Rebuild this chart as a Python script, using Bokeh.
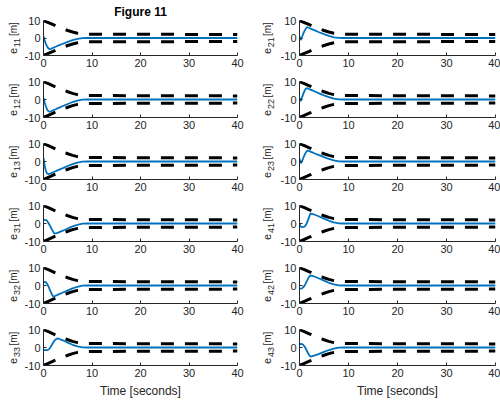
import math

from bokeh.core.properties import value
from bokeh.embed import file_html
from bokeh.layouts import column, row
from bokeh.models import FixedTicker, Range1d
from bokeh.plotting import figure
from bokeh.resources import INLINE

# Time samples (seconds) for the tracking errors
t = [0, 0.25, 0.5, 0.75, 1.0, 1.25, 1.5, 1.75, 2.0, 2.25, 2.5, 2.75, 3.0,
     4.0, 5.0, 6.0, 7.0, 8.0, 9.0, 40.0]

# Tracking errors [m]
e11 = [1.0, -1.5, -3.4, -4.9, -5.9, -6.4, -6.2, -5.9, -5.6, -5.3, -5.0, -4.7, -4.4,
       -3.3, -2.2, -1.2, -0.5, -0.1, 0.0, 0.0]
e12 = [1.0, -1.8, -3.9, -5.5, -6.5, -6.8, -6.6, -6.3, -6.0, -5.7, -5.4, -5.1, -4.8,
       -3.6, -2.5, -1.4, -0.6, -0.1, 0.0, 0.0]
e13 = [2.0, -2.5, -5.3, -6.6, -7.0, -6.8, -6.6, -6.3, -6.0, -5.7, -5.4, -5.1, -4.8,
       -3.7, -2.5, -1.5, -0.6, -0.1, 0.0, 0.0]
e31 = [2.0, 2.0, 1.9, 1.4, 0.4, -0.8, -2.1, -3.4, -4.6, -5.6, -5.5, -5.3, -5.1,
       -4.0, -2.8, -1.6, -0.7, -0.1, 0.0, 0.0]
e32 = [1.8, 2.0, 1.7, 0.9, -0.4, -2.0, -3.6, -5.0, -6.1, -6.0, -5.7, -5.4, -5.1,
       -3.9, -2.7, -1.6, -0.7, -0.1, 0.0, 0.0]
e33 = [-1.3, -1.5, -1.5, -1.4, -1.2, -0.6, 0.4, 1.6, 2.8, 3.8, 4.5, 4.9, 5.0,
       4.0, 2.7, 1.5, 0.6, 0.1, 0.0, 0.0]
e21 = [1.0, -1.2, 0.4, 2.3, 3.9, 5.2, 6.2, 6.0, 5.7, 5.4, 5.1, 4.8, 4.5,
       3.3, 2.2, 1.2, 0.4, 0.05, 0.0, 0.0]
e22 = [1.0, -1.0, 1.0, 3.0, 4.6, 5.9, 6.3, 6.1, 5.8, 5.5, 5.2, 4.9, 4.6,
       3.4, 2.3, 1.3, 0.5, 0.1, 0.0, 0.0]
e23 = [1.5, -1.0, 0.0, 1.8, 3.4, 4.8, 5.9, 6.1, 5.8, 5.5, 5.2, 4.9, 4.6,
       3.5, 2.4, 1.4, 0.6, 0.1, 0.0, 0.0]
e41 = [0.0, -1.8, -2.0, -2.0, -1.8, -1.0, 0.3, 2.0, 3.8, 5.6, 5.4, 5.2, 5.0,
       3.9, 2.7, 1.5, 0.6, 0.1, 0.0, 0.0]
e42 = [-1.6, -1.8, -1.6, -1.0, -0.2, 1.0, 2.4, 3.8, 5.0, 5.6, 5.4, 5.2, 5.0,
       3.9, 2.7, 1.5, 0.6, 0.1, 0.0, 0.0]
e43 = [1.9, 2.0, 1.9, 1.5, 0.7, -0.4, -1.8, -3.2, -4.4, -5.0, -4.9, -4.7, -4.5,
       -3.5, -2.4, -1.4, -0.6, -0.1, 0.0, 0.0]

# Prescribed performance bounds [m]
t_bound = [0, 1, 2, 3, 4, 5, 6, 7, 8, 40]
upper = [10.0, 8.8, 7.6, 6.4, 5.3, 4.3, 3.4, 2.7, 2.2, 2.0]
lower = [-10.0, -8.8, -7.6, -6.4, -5.3, -4.3, -3.4, -2.7, -2.2, -2.0]

left_ids = ["11", "12", "13", "31", "32", "33"]
right_ids = ["21", "22", "23", "41", "42", "43"]
series = {"11": e11, "12": e12, "13": e13, "31": e31, "32": e32, "33": e33,
          "21": e21, "22": e22, "23": e23, "41": e41, "42": e42, "43": e43}

x_ticks = [0, 10, 20, 30, 40]
y_ticks = [-10, 0, 10]

FONT = "Liberation Sans"
INK = "#262626"
BLUE = "#0072BD"
FRAME_H = 36


def borders(r):
    top = 19 if r == 0 else 10
    bottom = 37 if r == 5 else 16
    return top, bottom


def ylabel_strip(idx, r, width, base_x):
    """Narrow strip holding the rotated label e_ij [m]; its frame matches the panel's."""
    top, bottom = borders(r)
    s = figure(width=width, height=top + FRAME_H + bottom,
               x_range=Range1d(0, width), y_range=Range1d(0, FRAME_H),
               x_axis_location=None, y_axis_location=None,
               output_backend="svg", toolbar_location=None,
               min_border_top=top, min_border_bottom=bottom,
               min_border_left=0, min_border_right=0)
    s.outline_line_color = None
    s.xgrid.visible = False
    s.ygrid.visible = False
    s.background_fill_color = "white"
    s.border_fill_color = "white"
    common = dict(angle=math.pi / 2, text_font=value(FONT), text_color=INK,
                  text_baseline="alphabetic", text_align="left")
    # y counted in pixels up from the frame bottom
    s.text(x=[base_x], y=[1.5], text=["e"], text_font_size="11px", **common)
    s.text(x=[base_x + 4], y=[8.5], text=[idx], text_font_size="9px", **common)
    s.text(x=[base_x], y=[20.0], text=["[m]"], text_font_size="10px", **common)
    return s


def panel(idx, r, col):
    top, bottom = borders(r)
    if col == 0:
        width, b_left, b_right = 229, 22, 13
    else:
        width, b_left, b_right = 224, 23, 5
    p = figure(width=width, height=top + FRAME_H + bottom,
               x_range=Range1d(0, 40), y_range=Range1d(-10, 10),
               output_backend="svg", toolbar_location=None,
               min_border_top=top, min_border_bottom=bottom,
               min_border_left=b_left, min_border_right=b_right)
    p.outline_line_color = None
    p.xgrid.visible = False
    p.ygrid.visible = False
    p.background_fill_color = "white"
    p.border_fill_color = "white"

    for ax in (p.xaxis[0], p.yaxis[0]):
        ax.axis_line_color = INK
        ax.axis_line_width = 1
        ax.major_tick_line_color = INK
        ax.major_tick_in = 3
        ax.major_tick_out = 0
        ax.minor_tick_line_color = None
        ax.major_label_text_font = FONT
        ax.major_label_text_font_size = "11px"
        ax.major_label_text_color = INK
    p.xaxis.major_label_standoff = 3
    p.yaxis.major_label_standoff = 3
    p.xaxis.ticker = FixedTicker(ticks=x_ticks)
    p.yaxis.ticker = FixedTicker(ticks=y_ticks)
    p.yaxis.major_label_overrides = {v: str(v) for v in y_ticks}

    if r == 5:
        p.xaxis.axis_label = "Time [seconds]"
        p.xaxis.axis_label_text_font = FONT
        p.xaxis.axis_label_text_font_size = "12px"
        p.xaxis.axis_label_text_font_style = "normal"
        p.xaxis.axis_label_text_color = INK
        p.xaxis.axis_label_standoff = 4

    if r == 0 and col == 0:
        p.title.text = "Figure 11"
        p.title.align = "center"
        p.title.text_font = FONT
        p.title.text_font_size = "12px"
        p.title.text_font_style = "bold"
        p.title.text_color = "black"
        p.title.standoff = 4
        p.title.offset = 0

    # Performance bounds and the error trajectory
    p.line(t_bound, upper, line_color="black", line_width=3, line_dash="13 11")
    p.line(t_bound, lower, line_color="black", line_width=3, line_dash="13 11")
    p.line(t, series[idx], line_color=BLUE, line_width=1.8)
    return p


rows = []
for r in range(6):
    rows.append(row(
        ylabel_strip(left_ids[r], r, 21, 12.5),
        panel(left_ids[r], r, 0),
        ylabel_strip(right_ids[r], r, 26, 16.5),
        panel(right_ids[r], r, 1),
        spacing=0,
    ))

layout = column(*rows, spacing=0)

with open("out.html", "w") as f:
    f.write(file_html(layout, INLINE))
